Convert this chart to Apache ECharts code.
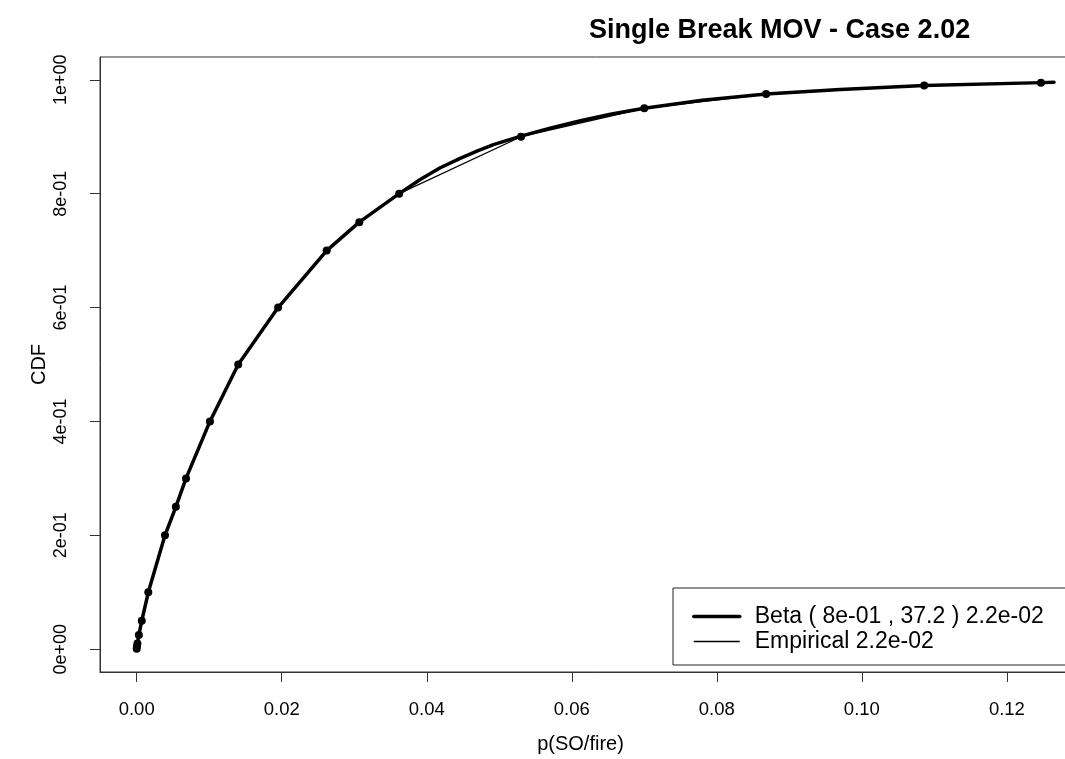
<!DOCTYPE html>
<html>
<head>
<meta charset="utf-8">
<script src="https://cdn.jsdelivr.net/npm/echarts@6/dist/echarts.min.js"></script>
<style>
html,body{margin:0;padding:0;background:#fff;overflow:hidden;}
#chart{width:1100px;height:759px;}
</style>
</head>
<body>
<div id="chart"></div>
<script>
// ---- data ----
const titleText = 'Single Break MOV - Case 2.02';
const xAxisTitle = 'p(SO/fire)';
const yAxisTitle = 'CDF';
const betaName = 'Beta ( 8e-01 , 37.2 ) 2.2e-02';
const empName = 'Empirical 2.2e-02';

// fitted Beta CDF curve (x, CDF)
const betaX = [0, 0.00003, 0.0001, 0.0003, 0.0007, 0.0016, 0.0039, 0.0054, 0.0068, 0.0101, 0.0140, 0.0195, 0.0262, 0.0307, 0.0362, 0.0391, 0.0418, 0.0446, 0.0470, 0.0492, 0.0530, 0.0570, 0.0612, 0.0655, 0.0700, 0.0780, 0.0868, 0.0970, 0.1086, 0.1248, 0.1265];
const betaY = [0, 0.005, 0.01, 0.025, 0.05, 0.1, 0.2, 0.25, 0.3, 0.4, 0.5, 0.6, 0.7, 0.75, 0.8, 0.825, 0.845, 0.862, 0.875, 0.886, 0.901, 0.915, 0.928, 0.94, 0.95, 0.964, 0.975, 0.983, 0.99, 0.995, 0.9955];

// empirical quantile points (x, CDF)
const empX = [0.0000, 0.00003, 0.0001, 0.0003, 0.0007, 0.0016, 0.0039, 0.0054, 0.0068, 0.0101, 0.0140, 0.0195, 0.0262, 0.0307, 0.0362, 0.0530, 0.0700, 0.0868, 0.1086, 0.1247];
const empY = [0.001, 0.005, 0.01, 0.025, 0.05, 0.1, 0.2, 0.25, 0.3, 0.4, 0.5, 0.6, 0.7, 0.75, 0.8, 0.9, 0.95, 0.975, 0.99, 0.995];

const xTicks = [0, 0.02, 0.04, 0.06, 0.08, 0.10, 0.12];
const xTickLabels = ['0.00', '0.02', '0.04', '0.06', '0.08', '0.10', '0.12'];
const yTicks = [0, 0.2, 0.4, 0.6, 0.8, 1.0];
const yTickLabels = ['0e+00', '2e-01', '4e-01', '6e-01', '8e-01', '1e+00'];

const zip = (a, b) => a.map((v, i) => [v, b[i]]);
const labelFor = (ticks, labels) => (v) => {
  for (let i = 0; i < ticks.length; i++) if (Math.abs(ticks[i] - v) < 1e-9) return labels[i];
  return '';
};

const axisCol = '#333';
const font = 'Liberation Sans, Arial, sans-serif';

const chart = echarts.init(document.getElementById('chart'), null, {renderer: 'canvas'});
chart.setOption({
  backgroundColor: '#fff',
  animation: false,
  title: {
    text: titleText,
    left: 589, top: 17, padding: 0,
    textStyle: {fontFamily: font, fontSize: 27, fontWeight: 'bold', color: '#000'}
  },
  grid: {
    left: 100, top: 57, right: 9, bottom: 86.5,
    show: true, borderColor: axisCol, borderWidth: 1, backgroundColor: 'transparent'
  },
  legend: {
    orient: 'vertical',
    left: 673, top: 588,
    padding: [17, 60, 12, 19],
    itemGap: 2,
    itemWidth: 46, itemHeight: 14,
    borderColor: '#222', borderWidth: 1,
    backgroundColor: '#fff',
    selectedMode: false,
    textStyle: {fontFamily: font, fontSize: 23, lineHeight: 20, color: '#000', padding: [0, 0, 0, 10]},
    data: [
      {name: betaName, itemStyle: {opacity: 0}, lineStyle: {width: 3.5, color: '#000'}},
      {name: empName, itemStyle: {opacity: 0}, lineStyle: {width: 1.3, color: '#000'}}
    ]
  },
  xAxis: {
    type: 'value',
    min: -0.00506, max: 0.1316,
    name: xAxisTitle, nameLocation: 'middle', nameGap: 62, nameMoveOverlap: false,
    nameTextStyle: {fontFamily: font, fontSize: 20, color: '#000', padding: [0, 30, 0, 0]},
    axisLine: {show: true, onZero: false, lineStyle: {color: axisCol, width: 1}},
    axisTick: {show: true, length: 10, customValues: xTicks, lineStyle: {color: axisCol, width: 1}},
    axisLabel: {customValues: xTicks, formatter: labelFor(xTicks, xTickLabels), margin: 28,
      fontFamily: font, fontSize: 18.5, color: '#000'},
    splitLine: {show: false}
  },
  yAxis: {
    type: 'value',
    min: -0.04, max: 1.04,
    name: yAxisTitle, nameLocation: 'middle', nameGap: 51, nameMoveOverlap: false,
    nameTextStyle: {fontFamily: font, fontSize: 20, color: '#000'},
    axisLine: {show: true, onZero: false, lineStyle: {color: axisCol, width: 1}},
    axisTick: {show: true, length: 10, customValues: yTicks, lineStyle: {color: axisCol, width: 1}},
    axisLabel: {customValues: yTicks, formatter: labelFor(yTicks, yTickLabels), rotate: 90, margin: 30,
      fontFamily: font, fontSize: 18, color: '#000'},
    splitLine: {show: false}
  },
  series: [
    {
      name: betaName, type: 'line',
      data: zip(betaX, betaY),
      symbol: 'none',
      smooth: false,
      lineStyle: {color: '#000', width: 3.5, join: 'round', cap: 'round'},
      itemStyle: {color: '#000'},
      z: 2
    },
    {
      name: empName, type: 'line',
      data: zip(empX, empY),
      symbol: 'circle', symbolSize: 8, showSymbol: true,
      lineStyle: {color: '#000', width: 1.3},
      itemStyle: {color: '#000'},
      z: 3
    }
  ]
});
</script>
</body>
</html>
